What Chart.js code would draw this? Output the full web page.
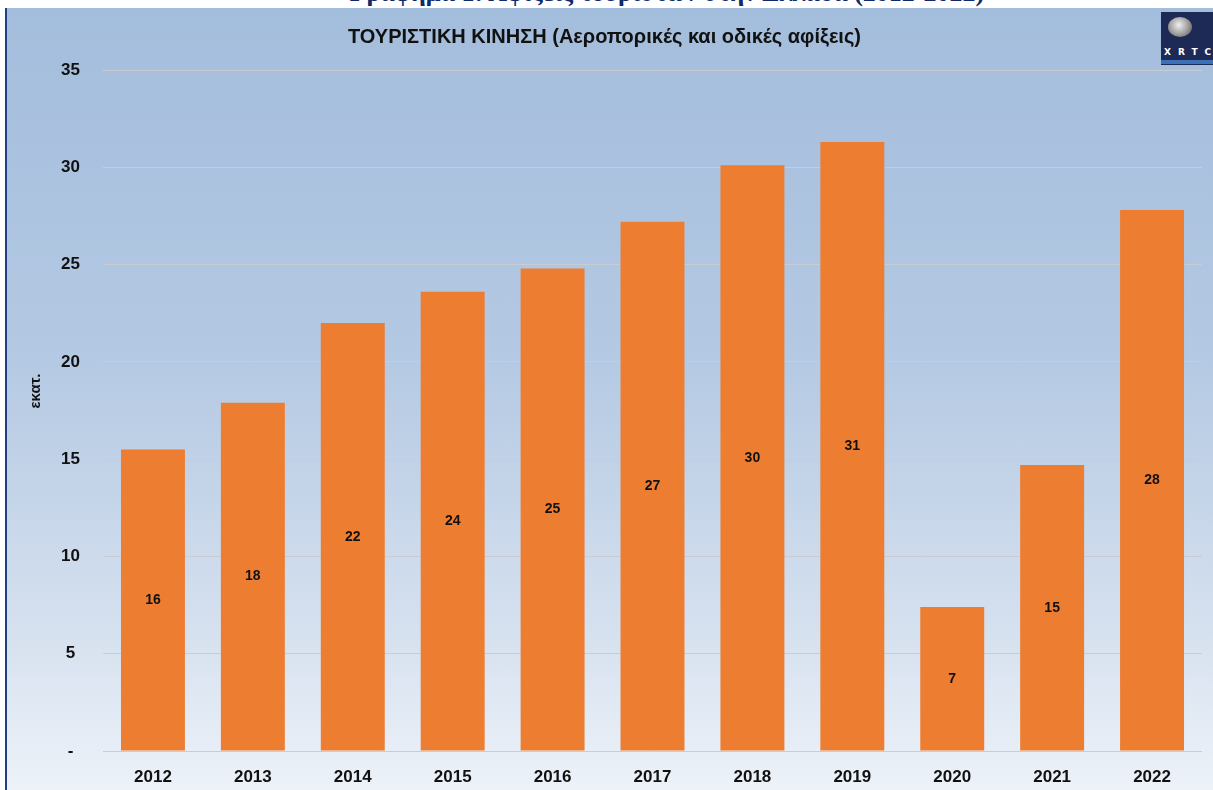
<!DOCTYPE html>
<html>
<head>
<meta charset="utf-8">
<script src="https://cdn.jsdelivr.net/npm/chart.js@4.4.1/dist/chart.umd.min.js"></script>
<style>
  html, body { margin: 0; padding: 0; background: #ffffff; }
  body { width: 1213px; height: 790px; position: relative; overflow: hidden; }
  #topStrip { position: absolute; left: 0; top: 0; width: 1213px; height: 8px; overflow: hidden; background: #fff; }
  #topStrip div { position: absolute; left: 0; width: 1334px; top: -20px; text-align: center;
    font-family: "Liberation Serif", "DejaVu Serif", serif; font-weight: bold; font-size: 26px; line-height: 26px; color: #0f2a6b; white-space: nowrap; }
  #wrap { position: absolute; left: 5px; top: 8px; width: 1208px; height: 782px;
    background: linear-gradient(to bottom, #a3bddc 0%, #b4c9e3 45%, #d6e1ef 80%, #edf2f9 100%);
    border-left: 2px solid #1f3f80; box-sizing: border-box; }
  #logo { position: absolute; left: 1161px; top: 12px; width: 52px; height: 53px; background: #1c2a55; overflow: hidden; }
  #logo .em { position: absolute; left: 7px; top: 5px; width: 24px; height: 20px; border-radius: 50%;
    background: radial-gradient(circle at 45% 40%, #f0f0f0 0%, #9a9a9a 55%, #4a4a4a 100%); }
  #logo .txt { position: absolute; left: 3px; top: 35px; font-family: "DejaVu Sans", sans-serif; font-weight: bold;
    font-size: 9px; color: #fff; letter-spacing: 7px; white-space: nowrap; }
  #logo .band { position: absolute; left: 0; top: 48px; width: 52px; height: 4px; background: #3d6fb6; }
</style>
</head>
<body>
<div id="topStrip"><div>Γράφημα 1: Αφίξεις τουριστών στην Ελλάδα (2012-2022)</div></div>
<div id="wrap"><canvas id="barChart"></canvas></div>
<div id="logo"><div class="em"></div><div class="txt">XRTC</div><div class="band"></div></div>
<script>
// Categories and values (million arrivals)
const years = ['2012', '2013', '2014', '2015', '2016', '2017', '2018', '2019', '2020', '2021', '2022'];
const arrivals = [15.5, 17.9, 22.0, 23.6, 24.8, 27.2, 30.1, 31.3, 7.4, 14.7, 27.8];
const yTicks = [0, 5, 10, 15, 20, 25, 30, 35];
const yAxisTitle = 'εκατ.';

const fontFamily = '"Liberation Sans", Arial, sans-serif';

// Simple plugin: value label in the middle of each bar + the rotated unit label
const barLabels = {
    id: 'barLabels',
    afterDatasetsDraw(chart) {
        const ctx = chart.ctx;
        const meta = chart.getDatasetMeta(0);
        ctx.save();
        ctx.font = 'bold 14px ' + fontFamily;
        ctx.fillStyle = '#111111';
        ctx.textAlign = 'center';
        ctx.textBaseline = 'middle';
        meta.data.forEach(function(bar, i) {
            const mid = (bar.y + bar.base) / 2;
            ctx.fillText(Math.round(arrivals[i]).toString(), bar.x, mid);
        });
        ctx.restore();

        // unit label, placed a bit above the middle like in the original
        ctx.save();
        ctx.font = 'bold 15px ' + fontFamily;
        ctx.fillStyle = '#111111';
        ctx.textAlign = 'center';
        ctx.textBaseline = 'middle';
        ctx.translate(29, chart.scales.y.getPixelForValue(18.5));
        ctx.rotate(-Math.PI / 2);
        ctx.fillText(yAxisTitle, 0, 0);
        ctx.restore();
    }
};

const config = {
    type: 'bar',
    data: {
        labels: years,
        datasets: [{
            label: 'Αφίξεις',
            data: arrivals,
            backgroundColor: '#ed7d31',
            borderWidth: 0,
            barPercentage: 0.64,
            categoryPercentage: 1.0
        }]
    },
    options: {
        responsive: false,
        maintainAspectRatio: false,
        animation: false,
        layout: { padding: { top: 0, right: 11, bottom: 0, left: 0 } },
        plugins: {
            legend: { display: false },
            tooltip: { enabled: false },
            title: {
                display: true,
                text: 'ΤΟΥΡΙΣΤΙΚΗ ΚΙΝΗΣΗ (Αεροπορικές και οδικές αφίξεις)',
                color: '#111111',
                font: { family: fontFamily, size: 20, weight: 'bold' },
                padding: { top: 17, bottom: 21 }
            }
        },
        scales: {
            x: {
                grid: { display: false },
                border: { display: false },
                ticks: {
                    color: '#111111',
                    font: { family: fontFamily, size: 17, weight: 'bold' },
                    padding: 8
                },
                afterFit: function(scale) { scale.height = 39; }
            },
            y: {
                min: 0,
                max: 35,
                afterBuildTicks: function(scale) {
                    scale.ticks = yTicks.map(function(v) { return { value: v }; });
                },
                grid: { color: '#c9cdd3', lineWidth: 1, drawTicks: false },
                border: { display: false },
                ticks: {
                    color: '#111111',
                    font: { family: fontFamily, size: 17, weight: 'bold' },
                    padding: 23,
                    crossAlign: 'center',
                    callback: function(value) { return value === 0 ? '-' : value; }
                },
                afterFit: function(scale) { scale.width = 96; }
            }
        }
    },
    plugins: [barLabels]
};

const canvas = document.getElementById('barChart');
canvas.width = 1206;
canvas.height = 782;
const myBarChart = new Chart(canvas.getContext('2d'), config);
</script>
</body>
</html>
